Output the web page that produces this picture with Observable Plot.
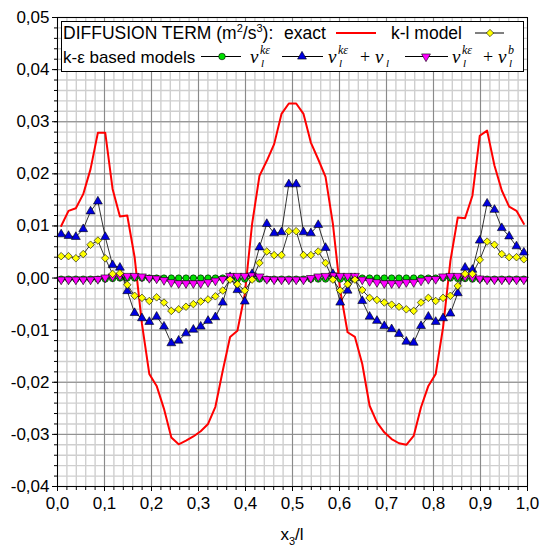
<!DOCTYPE html>
<html><head><meta charset="utf-8">
<script src="https://cdn.jsdelivr.net/npm/d3@7"></script>
<script src="https://cdn.jsdelivr.net/npm/@observablehq/plot@0.6"></script>
<style>
html,body{margin:0;padding:0;background:#fff;}
#chart{width:541px;height:546px;position:relative;}
</style></head><body><div id="chart"></div>
<script>
// exact diffusion term
const exact = [
 0.0100, 0.0129, 0.0134, 0.0161, 0.0209, 0.0279, 0.0279, 0.0171, 0.0118, 0.0120,
 0.0040,-0.0088,-0.0184,-0.0207,-0.0251,-0.0306,-0.0319,-0.0312,-0.0304,-0.0294,
-0.0280,-0.0247,-0.0178,-0.0113,-0.0101,-0.0031, 0.0104, 0.0196, 0.0225, 0.0257,
 0.0315, 0.0335, 0.0335, 0.0315, 0.0260, 0.0228, 0.0194, 0.0104,-0.0024,-0.0104,
-0.0113,-0.0165,-0.0245,-0.0277,-0.0296,-0.0309,-0.0317,-0.0320,-0.0303,-0.0248,
-0.0207,-0.0184,-0.0095, 0.0033, 0.0116, 0.0115, 0.0158, 0.0273, 0.0283, 0.0216,
 0.0168, 0.0137, 0.0129, 0.0104];
// k-l model
const klModel = [
 0.0042, 0.0042, 0.0038, 0.0046, 0.0064, 0.0072, 0.0038, 0.0008, 0.0009,-0.0013,
-0.0034,-0.0038,-0.0044,-0.0037,-0.0047,-0.0063,-0.0060,-0.0055,-0.0050,-0.0045,
-0.0041,-0.0035,-0.0024,-0.0003,-0.0012,-0.0024,-0.0003, 0.0029, 0.0051, 0.0044,
 0.0044, 0.0090, 0.0090, 0.0044, 0.0044, 0.0051, 0.0029,-0.0003,-0.0024,-0.0012,
-0.0003,-0.0023,-0.0038,-0.0042,-0.0047,-0.0051,-0.0055,-0.0060,-0.0063,-0.0047,
-0.0038,-0.0044,-0.0038,-0.0034,-0.0015, 0.0008, 0.0008, 0.0035, 0.0070, 0.0064,
 0.0046, 0.0040, 0.0040, 0.0036];
// nu_l^ke
const nuKe = [
-0.0002,-0.0002,-0.0002,-0.0002,-0.0002,-0.0002,-0.0002,-0.0001, 0.0000, 0.0000,
 0.0000, 0.0000, 0.0000, 0.0000, 0.0000, 0.0000, 0.0000, 0.0000, 0.0000, 0.0000,
 0.0000, 0.0000, 0.0000,-0.0001,-0.0002,-0.0002,-0.0001,-0.0002,-0.0002,-0.0002,
-0.0002,-0.0002,-0.0002,-0.0002,-0.0002,-0.0002,-0.0002,-0.0001,-0.0002,-0.0002,
-0.0001, 0.0000, 0.0000, 0.0000, 0.0000, 0.0000, 0.0000, 0.0000, 0.0000, 0.0000,
 0.0000, 0.0000, 0.0000, 0.0000,-0.0001,-0.0001,-0.0002,-0.0002,-0.0002,-0.0002,
-0.0002,-0.0002,-0.0002,-0.0002];
// nu_l^ke + nu_l
const nuKePlusNu = [
 0.0084, 0.0081, 0.0079, 0.0094, 0.0128, 0.0147, 0.0079, 0.0025, 0.0020,-0.0025,
-0.0067,-0.0077,-0.0084,-0.0074,-0.0093,-0.0125,-0.0120,-0.0106,-0.0099,-0.0093,
-0.0082,-0.0075,-0.0047, 0.0002,-0.0023,-0.0045, 0.0008, 0.0059, 0.0104, 0.0086,
 0.0088, 0.0180, 0.0180, 0.0088, 0.0086, 0.0102, 0.0058, 0.0008,-0.0047,-0.0024,
 0.0000,-0.0044,-0.0074,-0.0082,-0.0092,-0.0098,-0.0107,-0.0122,-0.0124,-0.0092,
-0.0074,-0.0084,-0.0077,-0.0068,-0.0029, 0.0020, 0.0016, 0.0072, 0.0143, 0.0131,
 0.0096, 0.0080, 0.0061, 0.0049];
// nu_l^ke + nu_l^b
const nuKePlusNuB = [
-0.0003,-0.0003,-0.0003,-0.0003,-0.0003,-0.0002, 0.0001, 0.0003, 0.0004, 0.0004,
 0.0004, 0.0003, 0.0000,-0.0001,-0.0004,-0.0008,-0.0010,-0.0010,-0.0010,-0.0010,
-0.0008,-0.0005,-0.0002, 0.0004, 0.0004, 0.0004, 0.0005, 0.0003,-0.0002,-0.0003,
-0.0003,-0.0003,-0.0003,-0.0003, 0.0000, 0.0003, 0.0004, 0.0005, 0.0004, 0.0004,
 0.0004,-0.0003,-0.0006,-0.0008,-0.0010,-0.0010,-0.0010,-0.0008,-0.0008,-0.0005,
-0.0002,-0.0002, 0.0003, 0.0004, 0.0004, 0.0003, 0.0002,-0.0001,-0.0003,-0.0003,
-0.0003,-0.0003,-0.0003,-0.0003];

const xMajor = [0, 0.1, 0.2, 0.3, 0.4, 0.5, 0.6, 0.7, 0.8, 0.9, 1.0];
const yMajor = [-0.04, -0.03, -0.02, -0.01, 0, 0.01, 0.02, 0.03, 0.04, 0.05];
const xMinor = d3.range(0, 51).map(i => i / 50);
const yMinor = d3.range(0, 46).map(i => -0.04 + i * 0.002);

const n = exact.length;
const xs = d3.range(n).map(i => (i + 0.5) / n); // cell-centred positions x3/l
const rows = vals => vals.map((v, i) => ({x: xs[i], y: v}));

const fmtY = d => d.toFixed(2).replace(".", ",");
const fmtX = d => d.toFixed(1).replace(".", ",");
const sqrt3 = Math.sqrt(3);
const triDown = {draw(ctx, size) {
  const y = -Math.sqrt(size / (sqrt3 * 3));
  ctx.moveTo(0, -y * 2); ctx.lineTo(-sqrt3 * y, y); ctx.lineTo(sqrt3 * y, y); ctx.closePath();
}};

const ML = 57, MR = 14, MT = 17, MB = 60;
const plot = Plot.plot({
  width: 541, height: 546,
  marginLeft: ML, marginRight: MR, marginTop: MT, marginBottom: MB,
  style: {fontFamily: "'Liberation Sans', Arial, sans-serif", fontSize: "17px", background: "white", color: "black"},
  x: {domain: [0, 1]},
  y: {domain: [-0.04, 0.05]},
  marks: [
    Plot.gridX(xMinor, {stroke: "#cfcfcf", strokeOpacity: 1, strokeWidth: 1.4}),
    Plot.gridY(yMinor, {stroke: "#cfcfcf", strokeOpacity: 1, strokeWidth: 1.4}),
    Plot.gridX(xMajor, {stroke: "#8a8a8a", strokeOpacity: 1, strokeWidth: 1}),
    Plot.gridY(yMajor, {stroke: "#8a8a8a", strokeOpacity: 1, strokeWidth: 1}),
    Plot.line(rows(exact), {x: "x", y: "y", stroke: "#ff0000", strokeWidth: 2}),
    Plot.line(rows(nuKe), {x: "x", y: "y", stroke: "black", strokeWidth: 0.8}),
    Plot.dot(rows(nuKe), {x: "x", y: "y", symbol: "circle", r: 3.2, fill: "#00e000", stroke: "black", strokeWidth: 0.6}),
    Plot.line(rows(nuKePlusNu), {x: "x", y: "y", stroke: "black", strokeWidth: 0.8}),
    Plot.dot(rows(nuKePlusNu), {x: "x", y: "y", symbol: "triangle", r: 3.3, fill: "#0000e0", stroke: "black", strokeWidth: 0.6}),
    Plot.line(rows(nuKePlusNuB), {x: "x", y: "y", stroke: "black", strokeWidth: 0.8}),
    Plot.dot(rows(nuKePlusNuB), {x: "x", y: "y", symbol: triDown, r: 3.3, fill: "#ff00ff", stroke: "black", strokeWidth: 0.6}),
    Plot.line(rows(klModel), {x: "x", y: "y", stroke: "black", strokeWidth: 0.8}),
    Plot.dot(rows(klModel), {x: "x", y: "y", symbol: "diamond2", r: 3.4, fill: "#ffff00", stroke: "black", strokeWidth: 0.6}),
    Plot.frame({stroke: "black", strokeWidth: 1}),
    Plot.axisY(yMinor, {anchor: "left", tickSize: 3, tickFormat: () => "", label: null}),
    Plot.axisY(yMajor, {anchor: "left", tickSize: 5, tickPadding: 3, tickFormat: fmtY, label: null}),
    Plot.axisX(xMinor, {anchor: "bottom", tickSize: 4, tickFormat: () => "", label: null}),
    Plot.axisX(xMajor, {anchor: "bottom", tickSize: 5, tickPadding: 5, tickFormat: fmtX, label: null})
  ]
});
document.getElementById("chart").appendChild(plot);

// axis title and legend
const svg = d3.select(plot);
const sans = "'Liberation Sans', Arial, sans-serif";
const serif = "'Liberation Serif', 'Times New Roman', serif";
const xt = svg.append("text").attr("x", 292).attr("y", 540).attr("text-anchor", "middle")
  .attr("font-family", sans).attr("font-size", 17).attr("fill", "black");
xt.append("tspan").text("x");
xt.append("tspan").attr("font-size", 11).attr("dy", 5).text("3");
xt.append("tspan").attr("dy", -5).text("/l");

const lg = svg.append("g").attr("text-anchor", "start");
lg.append("rect").attr("x", 61.5).attr("y", 21.5).attr("width", 462).attr("height", 50)
  .attr("fill", "white").attr("stroke", "black").attr("stroke-width", 1);
const y1 = 39, y2 = 62.5;
const FS = 17.5;
function sText(x, y, build, fs = FS) {
  const t = lg.append("text").attr("x", x).attr("y", y).attr("text-anchor", "start")
    .attr("font-family", sans).attr("font-size", fs).attr("fill", "black");
  build(t);
}
sText(63, y1, t => {
  t.append("tspan").text("DIFFUSION TERM (m");
  t.append("tspan").attr("font-size", 11).attr("dy", -7).text("2");
  t.append("tspan").attr("font-size", FS).attr("dy", 7).text("/s");
  t.append("tspan").attr("font-size", 11).attr("dy", -7).text("3");
  t.append("tspan").attr("font-size", FS).attr("dy", 7).text("):");
});
sText(284, y1, t => t.text("exact"));
sText(391, y1, t => t.text("k-l model"));
sText(63, y2, t => t.text("k-\u03b5 based models"), 17);

function sample(x1, x2, y, cx, fill, symType) {
  lg.append("line").attr("x1", x1).attr("x2", x2).attr("y1", y).attr("y2", y)
    .attr("stroke", "black").attr("stroke-width", 1);
  lg.append("path").attr("d", d3.symbol(symType, Math.PI * 3.3 * 3.3)())
    .attr("transform", `translate(${cx},${y})`).attr("fill", fill).attr("stroke", "black").attr("stroke-width", 0.6);
}
lg.append("line").attr("x1", 336).attr("x2", 376).attr("y1", 33).attr("y2", 33)
  .attr("stroke", "#ff0000").attr("stroke-width", 2);
sample(475, 504, 33, 490, "#ffff00", d3.symbolDiamond2);
sample(201, 241, 56.5, 222, "#00e000", d3.symbolCircle);
sample(282, 323, 56.5, 302, "#0000e0", d3.symbolTriangle);
sample(405, 448, 56.5, 426, "#ff00ff", triDown);

function nu(x, y, sup, sub) {
  const t = lg.append("text").attr("y", y).attr("text-anchor", "start").attr("font-family", serif)
    .attr("font-style", "italic").attr("fill", "black");
  t.append("tspan").attr("x", x).attr("font-size", 19).text("\u03bd");
  t.append("tspan").attr("x", x + 11).attr("y", y + 4).attr("font-size", 11).text(sub);
  if (sup) t.append("tspan").attr("x", x + 10).attr("y", y - 8.5).attr("font-size", 12).text(sup);
}
function plus(x, y) {
  lg.append("text").attr("x", x).attr("y", y).attr("text-anchor", "start").attr("font-family", serif)
    .attr("font-size", 18).attr("fill", "black").text("+");
}
nu(250, y2, "k\u03b5", "l");
nu(328, y2, "k\u03b5", "l");
plus(360, y2);
nu(375, y2, null, "l");
nu(452, y2, "k\u03b5", "l");
plus(483, y2);
nu(498, y2, "b", "l");
</script>
</body></html>
